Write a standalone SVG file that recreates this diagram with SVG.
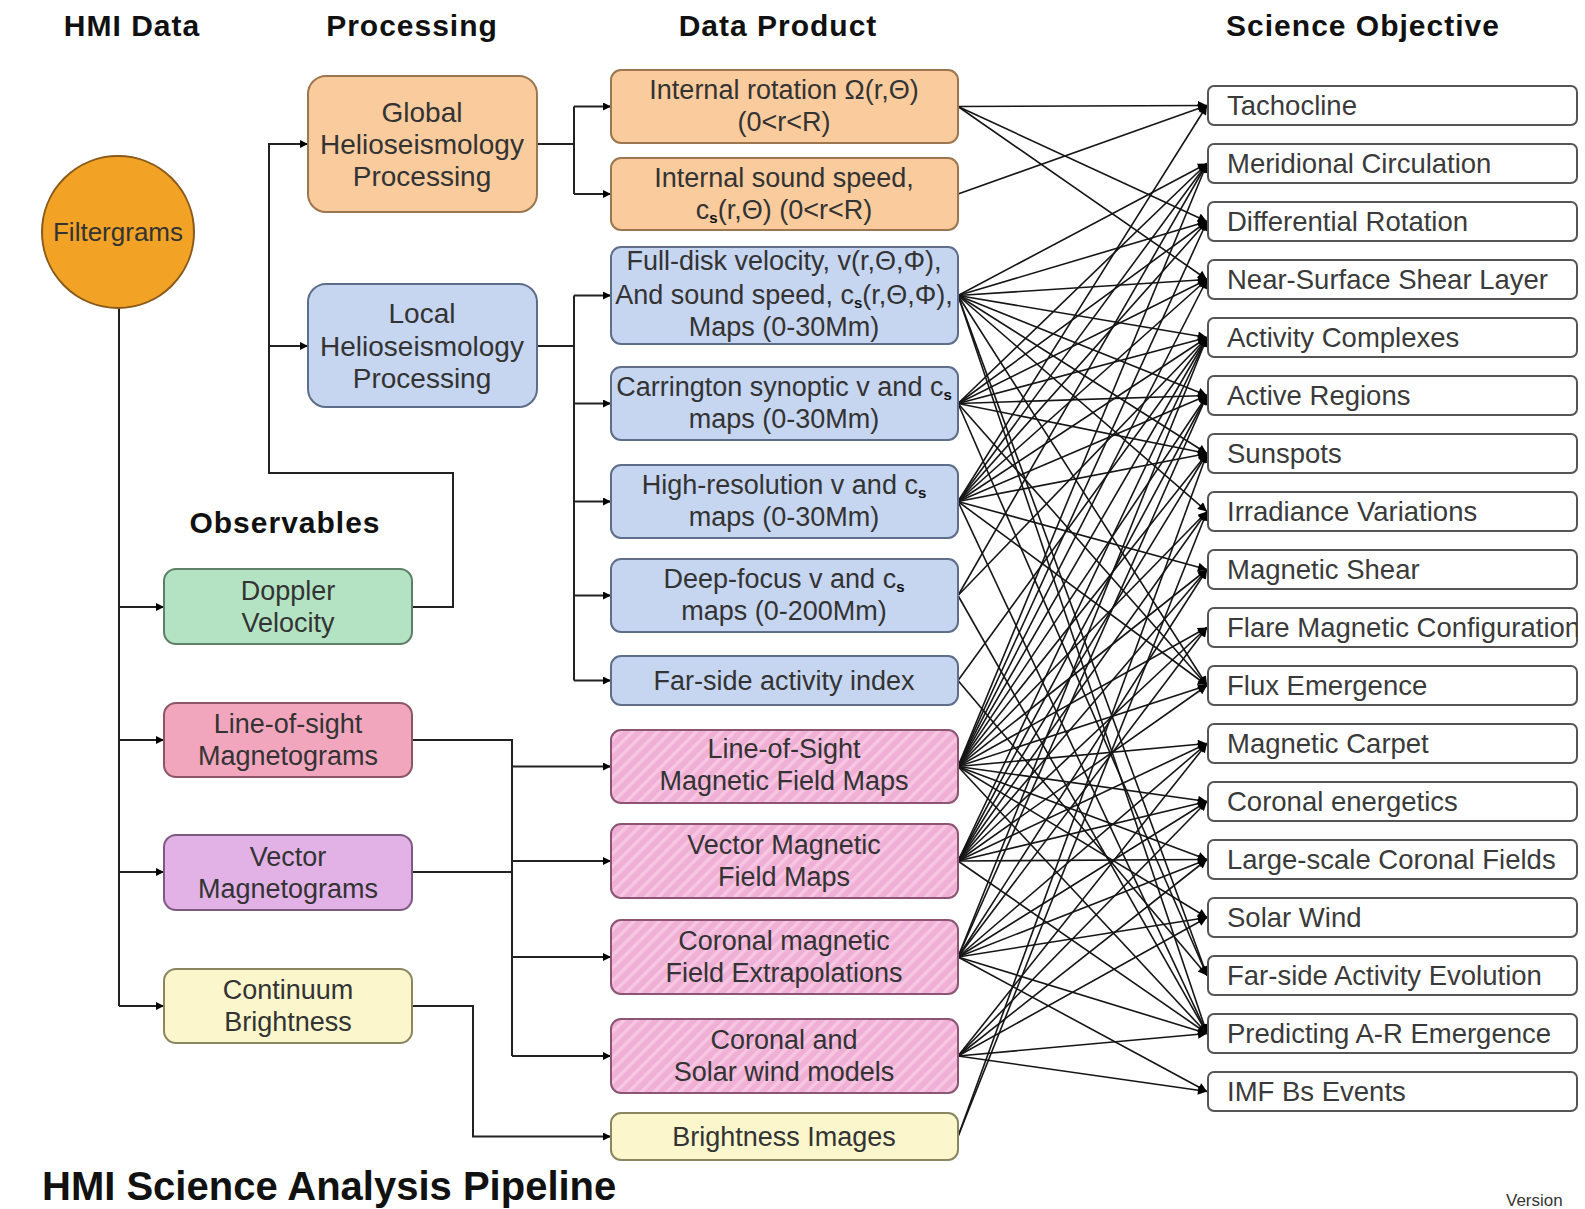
<svg xmlns="http://www.w3.org/2000/svg" width="1585" height="1209" viewBox="0 0 1585 1209">
<style>
.hd{font-family:"Liberation Sans",Arial,sans-serif;font-weight:bold;font-size:30px;letter-spacing:1px;fill:#111;text-anchor:middle}
.t{font-family:"Liberation Sans",Arial,sans-serif;font-size:27px;fill:#333;text-anchor:middle}
.so{font-family:"Liberation Sans",Arial,sans-serif;font-size:27.5px;fill:#3a3a3a}
.sb{font-size:15px;font-weight:bold;fill:#111}
.c path{fill:none;stroke:#151515;stroke-width:1.6;marker-end:url(#ah)}
.l path{fill:none;stroke:#222;stroke-width:2}
.l .a{marker-end:url(#la)}
.org{fill:#F9CB9D;stroke:#9C7650;stroke-width:2}
.blu{fill:#C6D5F0;stroke:#5E6E8A;stroke-width:2}
.grn{fill:#B3E3C3;stroke:#5E7F68;stroke-width:2}
.pnk{fill:#F2A6BE;stroke:#8C5566;stroke-width:2}
.vio{fill:#E2B2E6;stroke:#7E5A82;stroke-width:2}
.yel{fill:#FBF6CB;stroke:#8A8660;stroke-width:2}
.hat{fill:url(#hatch);stroke:#8C5574;stroke-width:2}
.sci{fill:#fff;stroke:#555;stroke-width:2}
</style>
<defs>
<marker id="ah" viewBox="0 0 10 10" refX="10" refY="5" markerWidth="11" markerHeight="9" markerUnits="userSpaceOnUse" orient="auto"><path d="M0 0L10 5L0 10z" fill="#000"/></marker>
<marker id="la" viewBox="0 0 10 10" refX="10" refY="5" markerWidth="10" markerHeight="8" markerUnits="userSpaceOnUse" orient="auto"><path d="M0 0L10 5L0 10z" fill="#000"/></marker>
<pattern id="hatch" width="9" height="9" patternUnits="userSpaceOnUse" patternTransform="rotate(45)"><rect width="9" height="9" fill="#F0AFD5"/><rect width="3.5" height="9" fill="#F6C6E2"/></pattern>
<clipPath id="flareclip"><rect x="1208" y="600" width="369" height="60"/></clipPath>
</defs>
<rect width="1585" height="1209" fill="#fff"/>

<g id="headers">
<text class="hd" x="132" y="36">HMI Data</text>
<text class="hd" x="412" y="36">Processing</text>
<text class="hd" x="778" y="36">Data Product</text>
<text class="hd" x="1363" y="36">Science Objective</text>
<text class="hd" x="285" y="533">Observables</text>
</g>

<g id="connectors">
<g class="l">
<path d="M119 308V1006"/>
<path class="a" d="M119 607H164"/>
<path class="a" d="M119 740H164"/>
<path class="a" d="M119 872H164"/>
<path class="a" d="M119 1006H164"/>
<path class="a" d="M412 607H453V473H269V144H308"/>
<path class="a" d="M269 346H308"/>
<path d="M537 144H574M574 106.5V194"/>
<path class="a" d="M574 106.5H611"/>
<path class="a" d="M574 194H611"/>
<path d="M537 346H574M574 295.5V680.5"/>
<path class="a" d="M574 295.5H611"/>
<path class="a" d="M574 403.5H611"/>
<path class="a" d="M574 501.5H611"/>
<path class="a" d="M574 595.5H611"/>
<path class="a" d="M574 680.5H611"/>
<path d="M412 740H512V1056M412 872H512"/>
<path class="a" d="M512 766.5H611"/>
<path class="a" d="M512 861H611"/>
<path class="a" d="M512 957H611"/>
<path class="a" d="M512 1056H611"/>
<path class="a" d="M412 1006H473V1136.5H611"/>
</g>
<g class="c">
<path d="M958 106.5 1207 105.5"/><path d="M958 106.5 1207 221.5"/><path d="M958 106.5 1207 279.5"/>
<path d="M958 194 1207 105.5"/>
<path d="M958 295.5 1207 163.5"/><path d="M958 295.5 1207 221.5"/><path d="M958 295.5 1207 279.5"/><path d="M958 295.5 1207 337.5"/><path d="M958 295.5 1207 395.5"/><path d="M958 295.5 1207 453.5"/><path d="M958 295.5 1207 511.5"/><path d="M958 295.5 1207 685.5"/><path d="M958 295.5 1207 975.5"/><path d="M958 295.5 1207 1033.5"/>
<path d="M958 403.5 1207 163.5"/><path d="M958 403.5 1207 221.5"/><path d="M958 403.5 1207 279.5"/><path d="M958 403.5 1207 337.5"/><path d="M958 403.5 1207 395.5"/><path d="M958 403.5 1207 453.5"/><path d="M958 403.5 1207 685.5"/><path d="M958 403.5 1207 975.5"/>
<path d="M958 501.5 1207 105.5"/><path d="M958 501.5 1207 163.5"/><path d="M958 501.5 1207 221.5"/><path d="M958 501.5 1207 279.5"/><path d="M958 501.5 1207 337.5"/><path d="M958 501.5 1207 395.5"/><path d="M958 501.5 1207 453.5"/><path d="M958 501.5 1207 569.5"/><path d="M958 501.5 1207 685.5"/><path d="M958 501.5 1207 1033.5"/>
<path d="M958 595.5 1207 163.5"/><path d="M958 595.5 1207 337.5"/><path d="M958 595.5 1207 1033.5"/>
<path d="M958 680.5 1207 337.5"/><path d="M958 680.5 1207 975.5"/>
<path d="M958 766.5 1207 163.5"/><path d="M958 766.5 1207 221.5"/><path d="M958 766.5 1207 279.5"/><path d="M958 766.5 1207 337.5"/><path d="M958 766.5 1207 395.5"/><path d="M958 766.5 1207 453.5"/><path d="M958 766.5 1207 511.5"/><path d="M958 766.5 1207 569.5"/><path d="M958 766.5 1207 627.5"/><path d="M958 766.5 1207 685.5"/><path d="M958 766.5 1207 743.5"/><path d="M958 766.5 1207 801.5"/><path d="M958 766.5 1207 859.5"/><path d="M958 766.5 1207 917.5"/><path d="M958 766.5 1207 1033.5"/>
<path d="M958 861 1207 337.5"/><path d="M958 861 1207 395.5"/><path d="M958 861 1207 453.5"/><path d="M958 861 1207 511.5"/><path d="M958 861 1207 569.5"/><path d="M958 861 1207 627.5"/><path d="M958 861 1207 685.5"/><path d="M958 861 1207 743.5"/><path d="M958 861 1207 801.5"/><path d="M958 861 1207 859.5"/><path d="M958 861 1207 1033.5"/>
<path d="M958 957 1207 337.5"/><path d="M958 957 1207 395.5"/><path d="M958 957 1207 569.5"/><path d="M958 957 1207 627.5"/><path d="M958 957 1207 743.5"/><path d="M958 957 1207 801.5"/><path d="M958 957 1207 859.5"/><path d="M958 957 1207 917.5"/><path d="M958 957 1207 1033.5"/><path d="M958 957 1207 1091.5"/>
<path d="M958 1056 1207 743.5"/><path d="M958 1056 1207 801.5"/><path d="M958 1056 1207 859.5"/><path d="M958 1056 1207 917.5"/><path d="M958 1056 1207 1033.5"/><path d="M958 1056 1207 1091.5"/>
<path d="M958 1136.5 1207 453.5"/><path d="M958 1136.5 1207 511.5"/>
</g>
</g>

<g id="filtergrams"><ellipse cx="118" cy="232" rx="76" ry="76" fill="#F2A225" stroke="#8A5A1A" stroke-width="2"/><text class="t" x="118" y="241" style="font-size:26px">Filtergrams</text></g>

<g id="global-helio"><rect class="org" x="308" y="76" width="229" height="136" rx="18"/><text class="t" x="422" y="122" style="font-size:28px">Global</text><text class="t" x="422" y="154" style="font-size:28px">Helioseismology</text><text class="t" x="422" y="186" style="font-size:28px">Processing</text></g>
<g id="local-helio"><rect class="blu" x="308" y="284" width="229" height="123" rx="18"/><text class="t" x="422" y="323" style="font-size:28px">Local</text><text class="t" x="422" y="356" style="font-size:28px">Helioseismology</text><text class="t" x="422" y="388" style="font-size:28px">Processing</text></g>

<g id="doppler"><rect class="grn" x="164" y="569" width="248" height="75" rx="12"/><text class="t" x="288" y="600">Doppler</text><text class="t" x="288" y="632">Velocity</text></g>
<g id="los-mag"><rect class="pnk" x="164" y="703" width="248" height="74" rx="12"/><text class="t" x="288" y="733">Line-of-sight</text><text class="t" x="288" y="765">Magnetograms</text></g>
<g id="vec-mag"><rect class="vio" x="164" y="835" width="248" height="75" rx="12"/><text class="t" x="288" y="866">Vector</text><text class="t" x="288" y="898">Magnetograms</text></g>
<g id="continuum"><rect class="yel" x="164" y="969" width="248" height="74" rx="12"/><text class="t" x="288" y="999">Continuum</text><text class="t" x="288" y="1031">Brightness</text></g>

<g id="internal-rotation"><rect class="org" x="611" y="70" width="347" height="73" rx="10"/><text class="t" x="784" y="99">Internal rotation Ω(r,Θ)</text><text class="t" x="784" y="131">(0&lt;r&lt;R)</text></g>
<g id="internal-sound"><rect class="org" x="611" y="158" width="347" height="72" rx="10"/><text class="t" x="784" y="187">Internal sound speed,</text><text class="t" x="784" y="219">c<tspan class="sb" dy="4">s</tspan><tspan dy="-4">(r,Θ) (0&lt;r&lt;R)</tspan></text></g>
<g id="full-disk"><rect class="blu" x="611" y="247" width="347" height="97" rx="10"/><text class="t" x="784" y="270">Full-disk velocity, v(r,Θ,Φ),</text><text class="t" x="784" y="304">And sound speed, c<tspan class="sb" dy="4">s</tspan><tspan dy="-4">(r,Θ,Φ),</tspan></text><text class="t" x="784" y="336">Maps (0-30Mm)</text></g>
<g id="carrington"><rect class="blu" x="611" y="367" width="347" height="73" rx="10"/><text class="t" x="784" y="396">Carrington synoptic v and c<tspan class="sb" dy="4">s</tspan></text><text class="t" x="784" y="428">maps (0-30Mm)</text></g>
<g id="high-res"><rect class="blu" x="611" y="465" width="347" height="73" rx="10"/><text class="t" x="784" y="494">High-resolution v and c<tspan class="sb" dy="4">s</tspan></text><text class="t" x="784" y="526">maps (0-30Mm)</text></g>
<g id="deep-focus"><rect class="blu" x="611" y="559" width="347" height="73" rx="10"/><text class="t" x="784" y="588">Deep-focus v and c<tspan class="sb" dy="4">s</tspan></text><text class="t" x="784" y="620">maps (0-200Mm)</text></g>
<g id="far-side"><rect class="blu" x="611" y="656" width="347" height="49" rx="10"/><text class="t" x="784" y="690">Far-side activity index</text></g>
<g id="los-maps"><rect class="hat" x="611" y="730" width="347" height="73" rx="10"/><text class="t" x="784" y="758">Line-of-Sight</text><text class="t" x="784" y="790">Magnetic Field Maps</text></g>
<g id="vec-maps"><rect class="hat" x="611" y="824" width="347" height="74" rx="10"/><text class="t" x="784" y="854">Vector Magnetic</text><text class="t" x="784" y="886">Field Maps</text></g>
<g id="coronal-extrap"><rect class="hat" x="611" y="920" width="347" height="74" rx="10"/><text class="t" x="784" y="950">Coronal magnetic</text><text class="t" x="784" y="982">Field Extrapolations</text></g>
<g id="coronal-models"><rect class="hat" x="611" y="1019" width="347" height="74" rx="10"/><text class="t" x="784" y="1049">Coronal and</text><text class="t" x="784" y="1081">Solar wind models</text></g>
<g id="brightness-images"><rect class="yel" x="611" y="1113" width="347" height="47" rx="10"/><text class="t" x="784" y="1146">Brightness Images</text></g>

<g id="objectives">
<g id="o-tachocline"><rect class="sci" x="1208" y="86" width="369" height="39" rx="6"/><text class="so" x="1227" y="115">Tachocline</text></g>
<g id="o-meridional"><rect class="sci" x="1208" y="144" width="369" height="39" rx="6"/><text class="so" x="1227" y="173">Meridional Circulation</text></g>
<g id="o-differential"><rect class="sci" x="1208" y="202" width="369" height="39" rx="6"/><text class="so" x="1227" y="231">Differential Rotation</text></g>
<g id="o-nearsurface"><rect class="sci" x="1208" y="260" width="369" height="39" rx="6"/><text class="so" x="1227" y="289">Near-Surface Shear Layer</text></g>
<g id="o-activity"><rect class="sci" x="1208" y="318" width="369" height="39" rx="6"/><text class="so" x="1227" y="347">Activity Complexes</text></g>
<g id="o-active"><rect class="sci" x="1208" y="376" width="369" height="39" rx="6"/><text class="so" x="1227" y="405">Active Regions</text></g>
<g id="o-sunspots"><rect class="sci" x="1208" y="434" width="369" height="39" rx="6"/><text class="so" x="1227" y="463">Sunspots</text></g>
<g id="o-irradiance"><rect class="sci" x="1208" y="492" width="369" height="39" rx="6"/><text class="so" x="1227" y="521">Irradiance Variations</text></g>
<g id="o-magshear"><rect class="sci" x="1208" y="550" width="369" height="39" rx="6"/><text class="so" x="1227" y="579">Magnetic Shear</text></g>
<g id="o-flare"><rect class="sci" x="1208" y="608" width="369" height="39" rx="6"/><text class="so" x="1227" y="637" clip-path="url(#flareclip)">Flare Magnetic Configuration</text></g>
<g id="o-flux"><rect class="sci" x="1208" y="666" width="369" height="39" rx="6"/><text class="so" x="1227" y="695">Flux Emergence</text></g>
<g id="o-carpet"><rect class="sci" x="1208" y="724" width="369" height="39" rx="6"/><text class="so" x="1227" y="753">Magnetic Carpet</text></g>
<g id="o-coronal"><rect class="sci" x="1208" y="782" width="369" height="39" rx="6"/><text class="so" x="1227" y="811">Coronal energetics</text></g>
<g id="o-largescale"><rect class="sci" x="1208" y="840" width="369" height="39" rx="6"/><text class="so" x="1227" y="869">Large-scale Coronal Fields</text></g>
<g id="o-solarwind"><rect class="sci" x="1208" y="898" width="369" height="39" rx="6"/><text class="so" x="1227" y="927">Solar Wind</text></g>
<g id="o-farside"><rect class="sci" x="1208" y="956" width="369" height="39" rx="6"/><text class="so" x="1227" y="985">Far-side Activity Evolution</text></g>
<g id="o-predicting"><rect class="sci" x="1208" y="1014" width="369" height="39" rx="6"/><text class="so" x="1227" y="1043">Predicting A-R Emergence</text></g>
<g id="o-imf"><rect class="sci" x="1208" y="1072" width="369" height="39" rx="6"/><text class="so" x="1227" y="1101">IMF Bs Events</text></g>
</g>

<g id="title">
<text x="42" y="1200" style="font-family:'Liberation Sans',Arial,sans-serif;font-weight:bold;font-size:40px;fill:#111">HMI Science Analysis Pipeline</text>
<text x="1506" y="1206" style="font-family:'Liberation Sans',Arial,sans-serif;font-size:17px;fill:#333">Version</text>
</g>
</svg>
